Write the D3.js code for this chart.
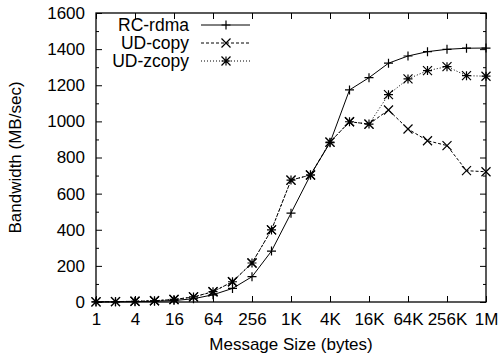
<!DOCTYPE html>
<html>
<head>
<meta charset="utf-8">
<script src="https://cdn.jsdelivr.net/npm/d3@7"></script>
<style>
  body { margin: 0; background: #fff; }
  svg { display: block; }
  text { font-family: "Liberation Sans", Arial, Helvetica, sans-serif; fill: #000; }
</style>
</head>
<body>
<svg width="499" height="356"></svg>
<script>
// message sizes in bytes, 1 .. 1M
const sizes = [1, 2, 4, 8, 16, 32, 64, 128, 256, 512, 1024, 2048, 4096, 8192,
  16384, 32768, 65536, 131072, 262144, 524288, 1048576];

const rcRdma = [0.5, 1, 2, 4, 8, 18, 40, 75, 140, 282, 492, 703, 882, 1174,
  1242, 1322, 1362, 1386, 1399, 1405, 1406];
const udCopy = [1, 2, 4, 7, 14, 28, 57, 112, 216, 399, 675, 703, 885, 998,
  985, 1063, 958, 893, 866, 727, 721];
const udZcopy = [1, 2, 4, 7, 14, 28, 57, 112, 216, 399, 675, 703, 885, 998,
  985, 1148, 1235, 1281, 1303, 1253, 1250];

const seriesNames = ["RC-rdma", "UD-copy", "UD-zcopy"];

const xTicks = [1, 4, 16, 64, 256, 1024, 4096, 16384, 65536, 262144, 1048576];
const xTickLabels = ["1", "4", "16", "64", "256", "1K", "4K", "16K", "64K", "256K", "1M"];
const yTicks = [0, 200, 400, 600, 800, 1000, 1200, 1400, 1600];
const yMinorTicks = [100, 300, 500, 700, 900, 1100, 1300, 1500];

const svg = d3.select("svg"),
    width = +svg.attr("width"),
    height = +svg.attr("height");

const plotLeft = 96, plotRight = 486, plotTop = 13, plotBottom = 302;

const x = d3.scaleLog().base(2).domain([1, 1048576]).range([plotLeft, plotRight]);
const y = d3.scaleLinear().domain([0, 1600]).range([plotBottom, plotTop]);

const styles = [
  { dash: null, marker: "plus" },
  { dash: "3,2", marker: "cross" },
  { dash: "1,2", marker: "star" }
];
const series = [rcRdma, udCopy, udZcopy];

// axes - ticks point inwards like gnuplot, mirrored on top/right
const xLabel = d => xTickLabels[xTicks.indexOf(d)];

svg.append("g")
    .attr("transform", `translate(0,${plotBottom})`)
    .call(d3.axisBottom(x).tickValues(xTicks).tickFormat(xLabel)
        .tickSizeInner(-6).tickSizeOuter(0).tickPadding(11))
    .call(g => g.select(".domain").remove())
    .call(g => g.selectAll("text").style("font-size", "17px"));

svg.append("g")
    .attr("transform", `translate(0,${plotTop})`)
    .call(d3.axisTop(x).tickValues(xTicks).tickFormat("")
        .tickSizeInner(-6).tickSizeOuter(0))
    .call(g => g.select(".domain").remove());

svg.append("g")
    .attr("transform", `translate(${plotLeft},0)`)
    .call(d3.axisLeft(y).tickValues(yTicks).tickFormat(d3.format("d"))
        .tickSizeInner(-6).tickSizeOuter(0).tickPadding(11))
    .call(g => g.select(".domain").remove())
    .call(g => g.selectAll("text").style("font-size", "17px"));

svg.append("g")
    .attr("transform", `translate(${plotLeft},0)`)
    .call(d3.axisLeft(y).tickValues(yMinorTicks).tickFormat("")
        .tickSizeInner(-3).tickSizeOuter(0))
    .call(g => g.select(".domain").remove());

svg.append("g")
    .attr("transform", `translate(${plotRight},0)`)
    .call(d3.axisRight(y).tickValues(yTicks).tickFormat("")
        .tickSizeInner(-6).tickSizeOuter(0))
    .call(g => g.select(".domain").remove());

svg.append("g")
    .attr("transform", `translate(${plotRight},0)`)
    .call(d3.axisRight(y).tickValues(yMinorTicks).tickFormat("")
        .tickSizeInner(-3).tickSizeOuter(0))
    .call(g => g.select(".domain").remove());

svg.selectAll(".tick line").attr("stroke", "#000");

// frame
svg.append("rect")
    .attr("x", plotLeft).attr("y", plotTop)
    .attr("width", plotRight - plotLeft).attr("height", plotBottom - plotTop)
    .attr("fill", "none").attr("stroke", "#000").attr("stroke-width", 1.3);

// axis titles
svg.append("text")
    .attr("x", 291).attr("y", 350)
    .attr("text-anchor", "middle")
    .style("font-size", "17px")
    .text("Message Size (bytes)");

svg.append("text")
    .attr("transform", `translate(21,${(plotTop + plotBottom) / 2}) rotate(-90)`)
    .attr("text-anchor", "middle")
    .style("font-size", "17px")
    .text("Bandwidth (MB/sec)");

function drawMarker(g, kind, cx, cy) {
  const s = 4.5;
  let d = "";
  if (kind === "plus" || kind === "star")
    d += `M${cx - s},${cy}H${cx + s}M${cx},${cy - s}V${cy + s}`;
  if (kind === "cross" || kind === "star")
    d += `M${cx - s},${cy - s}L${cx + s},${cy + s}M${cx - s},${cy + s}L${cx + s},${cy - s}`;
  g.append("path").attr("d", d).attr("stroke", "#000").attr("stroke-width", 1.2).attr("fill", "none");
}

const line = d3.line().x((d, i) => x(sizes[i])).y(d => y(d));

series.forEach((vals, k) => {
  const g = svg.append("g");
  g.append("path")
      .datum(vals)
      .attr("d", line)
      .attr("fill", "none")
      .attr("stroke", "#000")
      .attr("stroke-width", 1)
      .attr("stroke-dasharray", styles[k].dash);
  vals.forEach((v, i) => drawMarker(g, styles[k].marker, x(sizes[i]), y(v)));
});

// legend
const legend = svg.append("g");
seriesNames.forEach((name, k) => {
  const ly = 25 + k * 18;
  legend.append("text")
      .attr("x", 189).attr("y", ly)
      .attr("dy", "0.35em")
      .attr("text-anchor", "end")
      .style("font-size", "17.5px")
      .text(name);
  legend.append("line")
      .attr("x1", 201).attr("x2", 250)
      .attr("y1", ly).attr("y2", ly)
      .attr("stroke", "#000").attr("stroke-width", 1)
      .attr("stroke-dasharray", styles[k].dash);
  drawMarker(legend, styles[k].marker, 226, ly);
});
</script>
</body>
</html>
